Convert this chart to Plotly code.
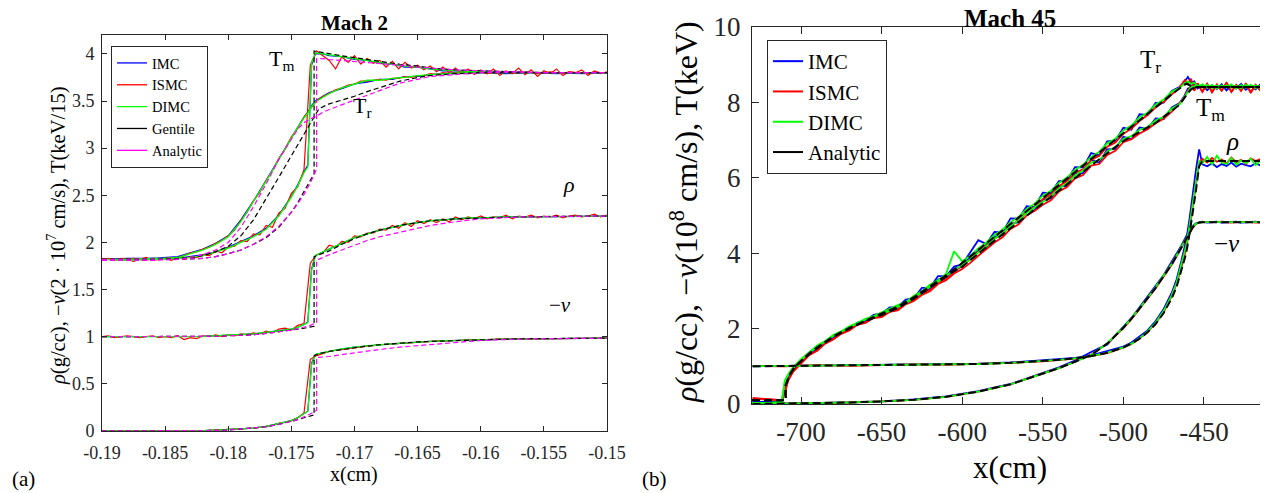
import plotly.graph_objects as go

FONT = "Liberation Serif"
AX = "#262626"
W, H = 1268, 493
OFF = 8  # the page body adds an 8px margin around the figure

# ======================= Mach 2 (panel a) =======================
X2_FINE = [-0.19, -0.1895, -0.189, -0.1885, -0.188, -0.1875, -0.187, -0.1865, -0.186, -0.1855,
           -0.185, -0.1845, -0.184, -0.1835, -0.183, -0.1825, -0.182, -0.1815, -0.181, -0.1805,
           -0.18, -0.1795, -0.179, -0.1785, -0.178, -0.1775, -0.177, -0.1765, -0.176, -0.1755,
           -0.175, -0.1745, -0.174, -0.1735, -0.173, -0.1725, -0.172, -0.1715, -0.171, -0.1705,
           -0.17, -0.1695, -0.169, -0.1685, -0.168, -0.1675, -0.167, -0.1665, -0.166, -0.1655,
           -0.165, -0.1645, -0.164, -0.1635, -0.163, -0.1625, -0.162, -0.1615, -0.161, -0.1605,
           -0.16, -0.1595, -0.159, -0.1585, -0.158, -0.1575, -0.157, -0.1565, -0.156, -0.1555,
           -0.155, -0.1545, -0.154, -0.1535, -0.153, -0.1525, -0.152, -0.1515, -0.151, -0.1505,
           -0.15]
X2_COARSE = [-0.19, -0.188, -0.186, -0.185, -0.184, -0.183, -0.182, -0.181, -0.18, -0.179,
             -0.178, -0.177, -0.176, -0.175, -0.1745, -0.174, -0.1737, -0.1734, -0.1731, -0.1725,
             -0.172, -0.171, -0.17, -0.169, -0.168, -0.167, -0.166, -0.165, -0.164, -0.163,
             -0.162, -0.161, -0.16, -0.158, -0.156, -0.154, -0.152, -0.15]

# IMC (blue) on coarse grid
IMC2_TM = [1.82, 1.82, 1.83, 1.82, 1.83, 1.85, 1.87, 1.90, 1.95, 2.01, 2.07, 2.15, 2.29, 2.49, 2.61,
           2.75, 2.82, 3.88, 4.00, 4.00, 3.98, 3.97, 3.94, 3.93, 3.90, 3.89, 3.86, 3.86, 3.84, 3.82,
           3.82, 3.81, 3.81, 3.80, 3.80, 3.79, 3.80, 3.80]
IMC2_TR = [1.82, 1.83, 1.83, 1.84, 1.85, 1.89, 1.93, 1.99, 2.07, 2.24, 2.44, 2.66, 2.89, 3.12, 3.22,
           3.33, 3.38, 3.45, 3.50, 3.55, 3.59, 3.63, 3.68, 3.70, 3.73, 3.73, 3.76, 3.76, 3.78, 3.79,
           3.80, 3.79, 3.80, 3.79, 3.80, 3.80, 3.79, 3.80]
IMC2_RHO = [1.00, 1.00, 1.00, 1.00, 1.00, 1.00, 1.005, 1.01, 1.015, 1.02, 1.03, 1.045, 1.06, 1.08, 1.10,
            1.13, 1.16, 1.72, 1.86, 1.90, 1.93, 1.99, 2.05, 2.09, 2.13, 2.16, 2.19, 2.21, 2.23, 2.24,
            2.25, 2.26, 2.26, 2.27, 2.27, 2.275, 2.28, 2.28]
IMC2_V = [0, 0, 0, 0, 0, 0.002, 0.005, 0.01, 0.015, 0.02, 0.03, 0.05, 0.08, 0.11, 0.14,
          0.18, 0.21, 0.72, 0.81, 0.83, 0.845, 0.87, 0.89, 0.905, 0.915, 0.925, 0.935, 0.945, 0.95, 0.955,
          0.96, 0.965, 0.97, 0.975, 0.978, 0.98, 0.983, 0.985]

# ISMC (red) on fine grid
ISMC2_TM = [1.83, 1.82, 1.81, 1.83, 1.82, 1.80, 1.82, 1.84, 1.81, 1.82,
            1.83, 1.81, 1.84, 1.82, 1.85, 1.84, 1.87, 1.86, 1.91, 1.89,
            1.95, 1.96, 2.02, 2.01, 2.09, 2.08, 2.18, 2.16, 2.31, 2.36,
            2.52, 2.59, 2.77, 3.88, 4.03, 3.98, 3.93, 3.84, 3.97, 3.91,
            3.98, 3.89, 3.95, 3.90, 3.93, 3.86, 3.92, 3.84, 3.91, 3.85,
            3.88, 3.83, 3.87, 3.81, 3.86, 3.80, 3.85, 3.79, 3.84, 3.78,
            3.83, 3.79, 3.84, 3.77, 3.82, 3.79, 3.85, 3.78, 3.83, 3.76,
            3.82, 3.79, 3.84, 3.77, 3.81, 3.80, 3.83, 3.77, 3.82, 3.79,
            3.81]
ISMC2_TR = [1.82, 1.83, 1.82, 1.81, 1.82, 1.83, 1.82, 1.81, 1.83, 1.82,
            1.83, 1.84, 1.84, 1.86, 1.89, 1.90, 1.93, 1.95, 1.99, 2.02,
            2.07, 2.13, 2.23, 2.32, 2.44, 2.53, 2.66, 2.76, 2.89, 2.99,
            3.12, 3.21, 3.33, 3.41, 3.50, 3.55, 3.58, 3.62, 3.64, 3.67,
            3.68, 3.71, 3.71, 3.72, 3.73, 3.72, 3.74, 3.74, 3.76, 3.75,
            3.77, 3.77, 3.79, 3.78, 3.80, 3.79, 3.80, 3.81, 3.79, 3.80,
            3.81, 3.79, 3.80, 3.80, 3.81, 3.79, 3.80, 3.81, 3.80, 3.79,
            3.80, 3.81, 3.80, 3.79, 3.81, 3.80, 3.80, 3.79, 3.81, 3.80,
            3.80]
ISMC2_RHO = [1.00, 1.01, 0.99, 1.00, 1.01, 1.00, 0.99, 1.00, 1.01, 0.99,
             1.00, 0.99, 1.01, 0.97, 0.99, 0.98, 1.01, 1.00, 1.02, 1.00,
             1.02, 1.01, 1.03, 1.02, 1.04, 1.03, 1.06, 1.04, 1.08, 1.09,
             1.07, 1.12, 1.14, 1.78, 1.87, 1.89, 1.97, 1.95, 2.01, 2.00,
             2.07, 2.06, 2.10, 2.10, 2.14, 2.13, 2.18, 2.15, 2.21, 2.17,
             2.23, 2.20, 2.24, 2.21, 2.25, 2.22, 2.27, 2.24, 2.27, 2.25,
             2.28, 2.25, 2.27, 2.26, 2.29, 2.25, 2.28, 2.27, 2.29, 2.26,
             2.28, 2.27, 2.29, 2.26, 2.28, 2.29, 2.27, 2.28, 2.30, 2.27,
             2.29]
ISMC2_V = [0.00, 0.00, 0.00, 0.00, 0.00, 0.00, 0.00, 0.00, 0.00, 0.00,
           0.00, 0.00, 0.00, 0.00, 0.002, 0.003, 0.005, 0.007, 0.01, 0.012,
           0.015, 0.017, 0.02, 0.025, 0.03, 0.04, 0.05, 0.06, 0.08, 0.09,
           0.11, 0.14, 0.19, 0.76, 0.80, 0.82, 0.845, 0.855, 0.865, 0.875,
           0.885, 0.89, 0.90, 0.905, 0.915, 0.92, 0.925, 0.93, 0.935, 0.94,
           0.945, 0.947, 0.95, 0.953, 0.955, 0.958, 0.96, 0.963, 0.965, 0.968,
           0.97, 0.972, 0.973, 0.974, 0.975, 0.976, 0.977, 0.978, 0.979, 0.98,
           0.98, 0.981, 0.981, 0.982, 0.982, 0.983, 0.983, 0.984, 0.984, 0.985,
           0.985]

# DIMC (green) on coarse grid
DIMC2_TM = [1.82, 1.81, 1.82, 1.82, 1.83, 1.84, 1.86, 1.90, 1.94, 2.00, 2.06, 2.14, 2.28, 2.48, 2.60,
            2.74, 2.80, 3.90, 4.01, 4.00, 3.99, 3.97, 3.95, 3.93, 3.91, 3.89, 3.87, 3.86, 3.84, 3.83,
            3.82, 3.815, 3.81, 3.805, 3.80, 3.80, 3.80, 3.80]
DIMC2_TR = [1.82, 1.82, 1.83, 1.83, 1.84, 1.88, 1.92, 1.98, 2.06, 2.22, 2.43, 2.65, 2.88, 3.11, 3.22,
            3.32, 3.37, 3.44, 3.49, 3.54, 3.58, 3.64, 3.68, 3.72, 3.72, 3.74, 3.75, 3.77, 3.78, 3.79,
            3.795, 3.80, 3.80, 3.80, 3.80, 3.80, 3.80, 3.80]
DIMC2_RHO = [1.00, 1.00, 1.00, 1.00, 1.00, 1.00, 1.00, 1.01, 1.015, 1.02, 1.03, 1.045, 1.06, 1.08, 1.10,
             1.13, 1.15, 1.70, 1.86, 1.90, 1.93, 1.99, 2.05, 2.09, 2.13, 2.16, 2.19, 2.21, 2.23, 2.24,
             2.25, 2.26, 2.26, 2.27, 2.27, 2.275, 2.28, 2.28]
DIMC2_V = [0, 0, 0, 0, 0, 0.002, 0.005, 0.01, 0.015, 0.02, 0.03, 0.05, 0.08, 0.11, 0.14,
           0.18, 0.21, 0.70, 0.81, 0.83, 0.845, 0.87, 0.89, 0.905, 0.915, 0.925, 0.935, 0.945, 0.95, 0.955,
           0.96, 0.965, 0.97, 0.975, 0.978, 0.98, 0.983, 0.985]

# Gentile (black dashed)
GENT2_X = [-0.19, -0.186, -0.184, -0.183, -0.182, -0.181, -0.18, -0.179, -0.178, -0.177,
           -0.176, -0.175, -0.1745, -0.174, -0.1735, -0.1732, -0.1732, -0.1728, -0.172, -0.171,
           -0.17, -0.169, -0.168, -0.1664, -0.165, -0.164, -0.162, -0.16, -0.157, -0.155, -0.15]
GENT2_TM = [1.82, 1.82, 1.82, 1.825, 1.83, 1.85, 1.88, 1.92, 1.98, 2.05, 2.16, 2.32, 2.42, 2.54, 2.66,
            2.73, 4.03, 4.02, 4.00, 3.98, 3.96, 3.94, 3.92, 3.89, 3.87, 3.85, 3.83, 3.82, 3.81, 3.80, 3.80]
GENT2_TR = [1.82, 1.82, 1.83, 1.84, 1.86, 1.90, 1.96, 2.07, 2.24, 2.46, 2.69, 2.92, 3.03, 3.14, 3.26,
            3.33, 3.33, 3.42, 3.47, 3.51, 3.55, 3.60, 3.64, 3.71, 3.75, 3.77, 3.79, 3.80, 3.80, 3.80, 3.80]
GENT2_RHO = [1.00, 1.00, 1.00, 1.00, 1.00, 1.005, 1.01, 1.015, 1.02, 1.035, 1.05, 1.07, 1.08, 1.09, 1.10,
             1.11, 1.85, 1.87, 1.91, 1.98, 2.04, 2.09, 2.13, 2.18, 2.21, 2.23, 2.25, 2.26, 2.27, 2.275, 2.28]
GENT2_V = [0, 0, 0, 0, 0.003, 0.006, 0.01, 0.02, 0.03, 0.045, 0.07, 0.10, 0.12, 0.14, 0.16,
           0.17, 0.80, 0.82, 0.845, 0.865, 0.885, 0.90, 0.915, 0.935, 0.945, 0.95, 0.96, 0.97, 0.978, 0.98, 0.985]

# Analytic (magenta dashed)
ANA2_X = [-0.19, -0.186, -0.184, -0.183, -0.182, -0.181, -0.18, -0.179, -0.178, -0.177,
          -0.176, -0.175, -0.1745, -0.174, -0.1735, -0.173, -0.173, -0.1725, -0.172, -0.171,
          -0.17, -0.169, -0.168, -0.1664, -0.165, -0.164, -0.162, -0.16, -0.157, -0.155, -0.15]
ANA2_TM = [1.82, 1.82, 1.82, 1.825, 1.83, 1.85, 1.88, 1.92, 1.98, 2.06, 2.17, 2.32, 2.41, 2.51, 2.63,
           2.78, 3.95, 3.95, 3.94, 3.93, 3.92, 3.91, 3.90, 3.88, 3.86, 3.85, 3.83, 3.82, 3.81, 3.80, 3.80]
ANA2_TR = [1.81, 1.81, 1.82, 1.84, 1.87, 1.92, 2.00, 2.16, 2.38, 2.62, 2.88, 3.10, 3.20, 3.27, 3.31,
           3.34, 3.34, 3.38, 3.41, 3.46, 3.51, 3.56, 3.61, 3.69, 3.73, 3.76, 3.78, 3.80, 3.81, 3.80, 3.80]
ANA2_RHO = [1.00, 1.00, 1.00, 1.00, 1.00, 1.005, 1.01, 1.015, 1.02, 1.035, 1.05, 1.07, 1.085, 1.10, 1.12,
            1.15, 1.81, 1.84, 1.87, 1.92, 1.97, 2.02, 2.06, 2.11, 2.15, 2.18, 2.22, 2.25, 2.27, 2.275, 2.28]
ANA2_V = [0, 0, 0, 0, 0.003, 0.006, 0.01, 0.02, 0.03, 0.045, 0.07, 0.10, 0.12, 0.15, 0.18,
          0.22, 0.78, 0.785, 0.79, 0.81, 0.83, 0.85, 0.865, 0.89, 0.905, 0.92, 0.945, 0.96, 0.975, 0.98, 0.985]

X2_TICKS = [-0.19, -0.185, -0.18, -0.175, -0.17, -0.165, -0.16, -0.155, -0.15]
Y2_TICKS = [0, 0.5, 1, 1.5, 2, 2.5, 3, 3.5, 4]

# ======================= Mach 45 (panel b) =======================
X45_T = [-730, -720, -712, -710, -708, -705,
         -700, -695, -690, -685, -680, -675, -670, -665, -660, -655,
         -650, -645, -640, -635, -630, -625, -620, -615, -610, -605,
         -600, -595, -590, -585, -580, -575, -570, -565, -560, -555,
         -550, -545, -540, -535, -530, -525, -520, -515, -510, -505,
         -500, -495, -490, -485, -480, -475, -470, -465,
         -462, -460, -458, -456, -454, -451, -448, -445, -442, -439,
         -436, -433, -430, -427, -424, -421, -418, -415, -412, -410]

IMC45_TR = [0.05, 0.06, 0.07, 0.40, 0.68, 0.88,
            1.10, 1.31, 1.45, 1.63, 1.75, 1.90, 1.99, 2.16, 2.20, 2.36,
            2.40, 2.56, 2.57, 2.77, 2.80, 3.08, 3.08, 3.39, 3.39, 3.64,
            3.70, 4.02, 4.34, 4.24, 4.56, 4.55, 4.92, 4.91, 5.24, 5.22,
            5.60, 5.59, 5.91, 5.92, 6.28, 6.27, 6.65, 6.59, 6.96, 6.98,
            7.32, 7.27, 7.68, 7.66, 7.98, 7.99, 8.30, 8.41,
            8.54, 8.67, 8.52, 8.55, 8.38, 8.46, 8.32, 8.45, 8.35, 8.47,
            8.31, 8.45, 8.37, 8.48, 8.33, 8.44, 8.34, 8.47, 8.36, 8.42]
IMC45_TM = [0.05, 0.06, 0.07, 0.40, 0.68, 0.88,
            1.10, 1.31, 1.46, 1.62, 1.74, 1.89, 1.98, 2.14, 2.19, 2.33,
            2.35, 2.51, 2.53, 2.71, 2.77, 2.99, 3.05, 3.30, 3.36, 3.58,
            3.63, 3.90, 4.06, 4.15, 4.43, 4.48, 4.77, 4.82, 5.12, 5.14,
            5.42, 5.45, 5.76, 5.78, 6.11, 6.12, 6.47, 6.40, 6.75, 6.76,
            7.08, 7.02, 7.33, 7.29, 7.57, 7.55, 7.86, 7.98,
            8.18, 8.36, 8.40, 8.48, 8.36, 8.45, 8.33, 8.44, 8.35, 8.46,
            8.32, 8.44, 8.36, 8.47, 8.34, 8.43, 8.35, 8.46, 8.37, 8.41]
ISMC45_TR = [0.16, 0.12, 0.10, 0.30, 0.62, 0.86,
             1.08, 1.30, 1.42, 1.62, 1.72, 1.88, 1.96, 2.12, 2.16, 2.30,
             2.33, 2.48, 2.51, 2.68, 2.76, 2.93, 3.02, 3.22, 3.31, 3.50,
             3.68, 3.83, 4.03, 4.20, 4.38, 4.52, 4.74, 4.86, 5.10, 5.22,
             5.43, 5.55, 5.78, 5.90, 6.13, 6.22, 6.47, 6.58, 6.82, 6.93,
             7.16, 7.30, 7.50, 7.66, 7.86, 8.01, 8.20, 8.40,
             8.58, 8.48, 8.62, 8.30, 8.50, 8.28, 8.49, 8.26, 8.47, 8.31,
             8.52, 8.27, 8.46, 8.30, 8.50, 8.25, 8.45, 8.32, 8.49, 8.35]
ISMC45_TM = [0.14, 0.11, 0.10, 0.32, 0.63, 0.85,
             1.07, 1.29, 1.41, 1.60, 1.71, 1.86, 1.95, 2.10, 2.15, 2.28,
             2.30, 2.44, 2.48, 2.64, 2.73, 2.89, 2.99, 3.18, 3.28, 3.46,
             3.58, 3.74, 3.93, 4.10, 4.28, 4.42, 4.64, 4.76, 5.00, 5.12,
             5.28, 5.40, 5.63, 5.75, 5.98, 6.07, 6.32, 6.36, 6.60, 6.71,
             6.94, 7.02, 7.17, 7.28, 7.44, 7.56, 7.75, 7.98,
             8.15, 8.30, 8.42, 8.33, 8.49, 8.27, 8.48, 8.28, 8.45, 8.30,
             8.51, 8.28, 8.44, 8.31, 8.48, 8.26, 8.46, 8.31, 8.48, 8.36]
DIMC45_TR = [0.03, 0.03, 0.05, 0.62, 0.78, 0.97,
             1.19, 1.38, 1.55, 1.67, 1.83, 1.93, 2.06, 2.15, 2.26, 2.33,
             2.43, 2.51, 2.62, 2.70, 2.87, 2.99, 3.16, 3.28, 3.45, 4.05,
             3.78, 3.93, 4.12, 4.28, 4.48, 4.62, 4.82, 4.96, 5.17, 5.31,
             5.52, 5.65, 5.86, 6.00, 6.21, 6.34, 6.55, 6.68, 6.91, 7.03,
             7.25, 7.38, 7.60, 7.72, 7.94, 8.07, 8.28, 8.38,
             8.50, 8.55, 8.48, 8.52, 8.40, 8.47, 8.38, 8.46, 8.36, 8.44,
             8.39, 8.47, 8.36, 8.45, 8.38, 8.46, 8.37, 8.44, 8.39, 8.43]
DIMC45_TM = [0.03, 0.03, 0.05, 0.60, 0.76, 0.95,
             1.17, 1.36, 1.53, 1.65, 1.81, 1.91, 2.04, 2.13, 2.24, 2.31,
             2.38, 2.47, 2.57, 2.66, 2.82, 2.95, 3.11, 3.24, 3.40, 3.54,
             3.68, 3.83, 4.02, 4.18, 4.38, 4.52, 4.72, 4.86, 5.07, 5.21,
             5.37, 5.50, 5.71, 5.85, 6.06, 6.19, 6.40, 6.46, 6.69, 6.81,
             7.03, 7.10, 7.27, 7.34, 7.52, 7.61, 7.83, 7.95,
             8.15, 8.26, 8.40, 8.42, 8.44, 8.38, 8.46, 8.37, 8.44, 8.39,
             8.45, 8.38, 8.43, 8.37, 8.46, 8.39, 8.44, 8.38, 8.45, 8.40]

ANA45_XT = [-730.4, -709.5, -709.5, -707, -704, -700, -695, -690, -685, -680,
            -670, -660, -650, -640, -630, -620, -610, -605, -600, -580,
            -560, -540, -520, -500, -480, -470, -465, -461, -458, -455,
            -440, -410]
ANA45_TR = [0.10, 0.10, 0.50, 0.78, 0.98, 1.15, 1.34, 1.50, 1.65, 1.79,
            2.02, 2.22, 2.40, 2.58, 2.83, 3.12, 3.41, 3.56, 3.74, 4.43,
            5.12, 5.81, 6.50, 7.19, 7.87, 8.21, 8.37, 8.49, 8.43, 8.40,
            8.40, 8.40]
ANA45_TM = [0.10, 0.10, 0.50, 0.77, 0.97, 1.13, 1.32, 1.48, 1.63, 1.77,
            2.00, 2.20, 2.36, 2.54, 2.79, 3.08, 3.37, 3.52, 3.64, 4.33,
            4.99, 5.66, 6.32, 6.97, 7.45, 7.77, 7.94, 8.18, 8.34, 8.40,
            8.40, 8.40]

X45_RV = [-730, -710, -690, -670, -650, -630, -610, -590, -570, -550,
          -540, -530, -520, -510, -500, -495, -490, -485, -480, -475,
          -470, -467, -464, -461, -459, -457, -455, -453, -451, -448,
          -445, -442, -439, -436, -433, -430, -427, -424, -421, -418,
          -415, -412, -410]
IMC45_RHO = [1.00, 1.01, 1.02, 1.02, 1.03, 1.04, 1.05, 1.07, 1.10, 1.15,
             1.18, 1.22, 1.29, 1.40, 1.52, 1.63, 1.78, 1.95, 2.20, 2.52,
             2.95, 3.30, 3.80, 4.35, 4.90, 5.60, 6.20, 6.75, 6.35, 6.30,
             6.38, 6.28, 6.36, 6.31, 6.40, 6.29, 6.37, 6.33, 6.30, 6.38,
             6.32, 6.36, 6.31]
ISMC45_RHO = [1.01, 1.00, 1.03, 1.01, 1.03, 1.05, 1.04, 1.06, 1.09, 1.13,
              1.17, 1.20, 1.27, 1.35, 1.49, 1.59, 1.73, 1.91, 2.14, 2.44,
              2.86, 3.18, 3.62, 4.12, 4.64, 5.20, 5.80, 6.38, 6.50, 6.40,
              6.52, 6.42, 6.48, 6.38, 6.53, 6.41, 6.47, 6.36, 6.51, 6.44,
              6.49, 6.40, 6.46]
DIMC45_RHO = [1.00, 1.01, 1.02, 1.02, 1.03, 1.04, 1.05, 1.06, 1.09, 1.14,
              1.17, 1.21, 1.27, 1.36, 1.50, 1.60, 1.74, 1.92, 2.16, 2.47,
              2.88, 3.22, 3.68, 4.20, 4.72, 5.30, 5.90, 6.45, 6.38, 6.55,
              6.35, 6.58, 6.40, 6.36, 6.52, 6.34, 6.46, 6.38, 6.50, 6.33,
              6.45, 6.37, 6.42]
ANA45_RHO = [1.00, 1.01, 1.02, 1.02, 1.03, 1.04, 1.05, 1.06, 1.09, 1.14,
             1.17, 1.21, 1.27, 1.36, 1.50, 1.60, 1.73, 1.90, 2.12, 2.41,
             2.80, 3.10, 3.52, 4.00, 4.50, 5.05, 5.65, 6.30, 6.44, 6.44,
             6.44, 6.44, 6.44, 6.44, 6.44, 6.44, 6.44, 6.44, 6.44, 6.44,
             6.44, 6.44, 6.44]
IMC45_V = [0.00, 0.01, 0.02, 0.04, 0.07, 0.12, 0.20, 0.34, 0.53, 0.82,
           0.97, 1.15, 1.38, 1.58, 2.05, 2.28, 2.56, 2.83, 3.13, 3.42,
           3.76, 3.97, 4.20, 4.45, 4.60, 4.72, 4.79, 4.82, 4.83, 4.81,
           4.82, 4.83, 4.81, 4.82, 4.82, 4.83, 4.81, 4.82, 4.82, 4.83,
           4.81, 4.82, 4.82]
ISMC45_V = [0.00, 0.01, 0.02, 0.04, 0.07, 0.11, 0.19, 0.33, 0.52, 0.80,
            0.95, 1.12, 1.31, 1.60, 2.01, 2.25, 2.51, 2.79, 3.07, 3.37,
            3.69, 3.91, 4.13, 4.37, 4.53, 4.67, 4.77, 4.81, 4.82, 4.82,
            4.81, 4.82, 4.83, 4.82, 4.81, 4.82, 4.82, 4.83, 4.82, 4.81,
            4.82, 4.82, 4.82]
DIMC45_V = [0.00, 0.01, 0.02, 0.04, 0.07, 0.11, 0.19, 0.33, 0.52, 0.80,
            0.95, 1.12, 1.30, 1.61, 2.03, 2.27, 2.53, 2.81, 3.10, 3.40,
            3.72, 3.94, 4.16, 4.40, 4.56, 4.70, 4.78, 4.81, 4.82, 4.82,
            4.82, 4.82, 4.82, 4.82, 4.82, 4.82, 4.82, 4.82, 4.82, 4.82,
            4.82, 4.82, 4.82]
ANA45_V = [0.00, 0.01, 0.02, 0.04, 0.07, 0.11, 0.19, 0.33, 0.52, 0.80,
           0.95, 1.12, 1.30, 1.60, 2.02, 2.26, 2.52, 2.80, 3.08, 3.38,
           3.70, 3.92, 4.14, 4.38, 4.54, 4.68, 4.77, 4.81, 4.82, 4.82,
           4.82, 4.82, 4.82, 4.82, 4.82, 4.82, 4.82, 4.82, 4.82, 4.82,
           4.82, 4.82, 4.82]

X45_TICKS = [-700, -650, -600, -550, -500, -450]
Y45_TICKS = [0, 2, 4, 6, 8, 10]

BLUE, RED, GREEN, BLACK, MAGENTA = "#0000FF", "#FF0000", "#00FF00", "#000000", "#FF00FF"


def px(x):
    return (x - OFF) / W


def py(y):
    return 1 - (y - OFF) / H


fig = go.Figure()

# ---------- legend proxies (solid samples, as in the reference) ----------
for name, col in [("IMC", BLUE), ("ISMC", RED), ("DIMC", GREEN), ("Gentile", BLACK), ("Analytic", MAGENTA)]:
    fig.add_trace(go.Scatter(x=[None], y=[None], mode="lines", name=name, legend="legend",
                             line=dict(color=col, width=1.3), xaxis="x", yaxis="y"))
for name, col in [("IMC", BLUE), ("ISMC", RED), ("DIMC", GREEN), ("Analytic", BLACK)]:
    fig.add_trace(go.Scatter(x=[None], y=[None], mode="lines", name=name, legend="legend2",
                             line=dict(color=col, width=2), xaxis="x2", yaxis="y2"))

# ---------- panel (a) ----------
panel_a = [
    (BLUE, None, 1.2, X2_COARSE, [IMC2_TM, IMC2_TR, IMC2_RHO, IMC2_V]),
    (RED, None, 1.2, X2_FINE, [ISMC2_TM, ISMC2_TR, ISMC2_RHO, ISMC2_V]),
    (GREEN, None, 1.3, X2_COARSE, [DIMC2_TM, DIMC2_TR, DIMC2_RHO, DIMC2_V]),
    (BLACK, "5px,3px", 1.2, GENT2_X, [GENT2_TM, GENT2_TR, GENT2_RHO, GENT2_V]),
    (MAGENTA, "5px,3px", 1.2, ANA2_X, [ANA2_TM, ANA2_TR, ANA2_RHO, ANA2_V]),
]
for col, dash, lw, xs, series in panel_a:
    for ys in series:
        fig.add_trace(go.Scatter(x=xs, y=ys, mode="lines", showlegend=False,
                                 line=dict(color=col, width=lw, dash=dash),
                                 xaxis="x", yaxis="y", hoverinfo="skip"))

# ---------- panel (b) ----------
panel_b = [
    (BLUE, None, 1.8, [(X45_T, IMC45_TR), (X45_T, IMC45_TM), (X45_RV, IMC45_RHO), (X45_RV, IMC45_V)]),
    (RED, None, 1.8, [(X45_T, ISMC45_TR), (X45_T, ISMC45_TM), (X45_RV, ISMC45_RHO), (X45_RV, ISMC45_V)]),
    (GREEN, None, 1.8, [(X45_T, DIMC45_TR), (X45_T, DIMC45_TM), (X45_RV, DIMC45_RHO), (X45_RV, DIMC45_V)]),
    (BLACK, "8px,4px", 2.0, [(ANA45_XT, ANA45_TR), (ANA45_XT, ANA45_TM), (X45_RV, ANA45_RHO), (X45_RV, ANA45_V)]),
]
for col, dash, lw, pairs in panel_b:
    for xs, ys in pairs:
        fig.add_trace(go.Scatter(x=xs, y=ys, mode="lines", showlegend=False,
                                 line=dict(color=col, width=lw, dash=dash),
                                 xaxis="x2", yaxis="y2", hoverinfo="skip"))


def axis_style(size, ticklen, standoff):
    return dict(showline=True, linecolor=AX, linewidth=1, mirror="ticks", ticks="inside",
                ticklen=ticklen, tickwidth=1, tickcolor=AX, showgrid=False, zeroline=False,
                automargin=False,
                tickfont=dict(family=FONT, size=size, color=AX), ticklabelstandoff=standoff)


def tt(vals):
    return [f"{v:g}" for v in vals]


fig.update_layout(
    template="none",
    width=W, height=H, margin=dict(l=0, r=0, t=0, b=0, pad=0, autoexpand=False),
    paper_bgcolor="white", plot_bgcolor="white",
    font=dict(family=FONT, color="black"),
    xaxis=dict(domain=[px(102), px(607)], range=[-0.19, -0.15], anchor="y",
               tickvals=X2_TICKS, ticktext=tt(X2_TICKS), **axis_style(18, 5, 5)),
    yaxis=dict(domain=[py(431), py(35)], range=[0, 4.2], anchor="x",
               tickvals=Y2_TICKS, ticktext=tt(Y2_TICKS), **axis_style(18, 5, 3)),
    xaxis2=dict(domain=[px(752), px(1267)], range=[-730.4, -410.9], anchor="y2",
                tickvals=X45_TICKS, ticktext=tt(X45_TICKS), **axis_style(27, 7, 4)),
    yaxis2=dict(domain=[py(404), py(26.7)], range=[0, 10], anchor="x2",
                tickvals=Y45_TICKS, ticktext=tt(Y45_TICKS), **axis_style(27, 7, 5)),
    legend=dict(x=px(111), y=py(46), xanchor="left", yanchor="top", bgcolor="white",
                bordercolor=AX, borderwidth=1, font=dict(family=FONT, size=14.5, color="black"),
                tracegroupgap=0, itemwidth=30),
    legend2=dict(x=px(767), y=py(40), xanchor="left", yanchor="top", bgcolor="white",
                 bordercolor=AX, borderwidth=1, font=dict(family=FONT, size=21, color="black"),
                 tracegroupgap=0, itemwidth=30),
)

ann = []


def add_text(text, x, y, size, angle=0, color="black", xanchor="center", yanchor="middle"):
    ann.append(dict(text=text, x=px(x), y=py(y), xref="paper", yref="paper", showarrow=False,
                    textangle=angle, xanchor=xanchor, yanchor=yanchor, borderpad=0,
                    font=dict(family=FONT, size=size, color=color)))


# panel (a) texts
add_text("<b>Mach 2</b>", 354, 23, 21)
add_text("x(cm)", 354, 474, 20)
add_text("<i>ρ</i>(g/cc), −<i>v</i>(2 · 10<sup>7</sup> cm/s), T(keV/15)", 56, 236, 20.5, angle=-90)
add_text("(a)", 23, 479, 21)
add_text("T<sub>m</sub>", 281, 60, 22)
add_text("T<sub>r</sub>", 362, 107, 22)
add_text("<i>ρ</i>", 569, 184, 22)
add_text("−<i>v</i>", 560, 305, 21)

# panel (b) texts
add_text("<b>Mach 45</b>", 1010, 19, 25)
add_text("x(cm)", 1010, 467, 31)
add_text("<i>ρ</i>(g/cc), −<i>v</i>(10<sup>8</sup> cm/s), T(keV)", 684, 212, 32, angle=-90)
add_text("(b)", 654, 479, 21)
add_text("T<sub>r</sub>", 1150, 62, 25)
add_text("T<sub>m</sub>", 1210, 110, 25)
add_text("<i>ρ</i>", 1232, 141, 25)
add_text("−<i>v</i>", 1227, 243, 25)

fig.update_layout(annotations=ann)

fig.write_html("out.html")
